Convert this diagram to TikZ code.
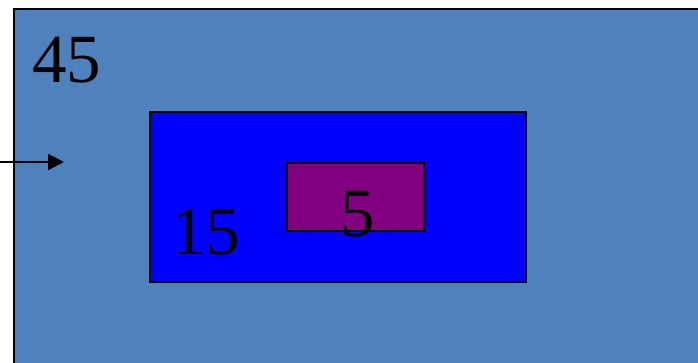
\documentclass[tikz,border=0pt]{standalone}
\usepackage{fontspec}
\setmainfont{Liberation Serif}
\usetikzlibrary{arrows.meta}
\definecolor{outerblue}{HTML}{4F81BD}
\definecolor{innerblue}{HTML}{0000FF}
\definecolor{innerpurple}{HTML}{800080}
\tikzset{
  box/.style={draw=black, line width=2.4pt, inner sep=0pt, anchor=north west},
  num/.style={inner sep=0pt, font=\fontsize{69}{69}\selectfont, text=black},
}
\begin{document}
\begin{tikzpicture}[x=1pt,y=1pt]
\useasboundingbox (0,0) rectangle (698,363);
\clip (0,0) rectangle (698,363);
\fill[white] (0,0) rectangle (698,363);
\node[box, fill=outerblue, minimum width=700pt, minimum height=365pt] (outer) at (13,355) {};
\node[box, fill=innerblue, minimum width=376pt, minimum height=170pt] (mid) at (149,252) {};
\node[box, fill=innerpurple, minimum width=137pt, minimum height=68pt] (inner) at (286,201) {};
\node[num, anchor=base west] (t45) at (32,280) {45};
\node[num, anchor=base west] (t15) at (171,108) {15};
\node[num, anchor=base] (t5) at (357.5,126) {5};
\coordinate (as) at (0,201);
\coordinate (ae) at (64,201);
\draw[line width=2.4pt, -{Triangle[length=16pt,width=16pt]}] (as) -- (ae);
\end{tikzpicture}
\end{document}
